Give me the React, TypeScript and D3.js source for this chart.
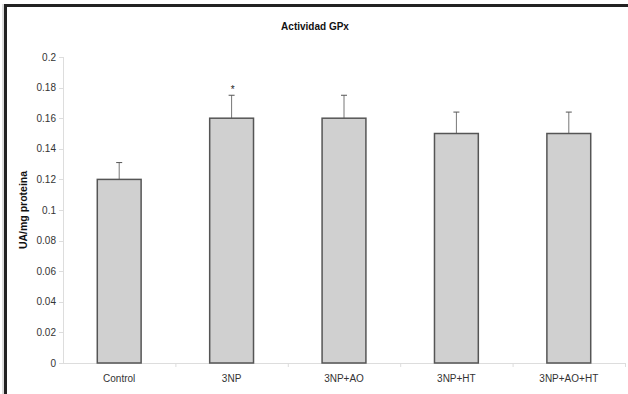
import React from "react";
import * as d3 from "d3";

const categories = ["Control", "3NP", "3NP+AO", "3NP+HT", "3NP+AO+HT"];
const values = [0.12, 0.16, 0.16, 0.15, 0.15];
const errors = [0.011, 0.015, 0.015, 0.014, 0.014];
const significant = [false, true, false, false, false];
const yTicks = [0, 0.02, 0.04, 0.06, 0.08, 0.1, 0.12, 0.14, 0.16, 0.18, 0.2];

const W = 628;
const H = 394;
const left = 63;
const right = 625;
const top = 57;
const bottom = 363;

export default function App() {
  const x = d3.scaleBand<string>().domain(categories).range([left, right]).paddingInner(0).paddingOuter(0);
  const y = d3.scaleLinear().domain([0, 0.2]).range([bottom, top]);
  const bw = x.bandwidth() * 0.39;
  const font = "'Liberation Sans', Arial, sans-serif";
  return (
    <svg width={W} height={H} style={{ position: "absolute", left: 0, top: 0, background: "#fff" }} fontFamily={font}>
      <rect x={0} y={0} width={W} height={H} fill="#fff" />
      {/* frame */}
      <line x1={3} y1={4} x2={3} y2={H} stroke="#bbb" strokeWidth={1} />
      <line x1={5.5} y1={5.5} x2={5.5} y2={H} stroke="#222" strokeWidth={3} />
      <line x1={4} y1={5.5} x2={W} y2={5.5} stroke="#222" strokeWidth={3} />
      <text x={315} y={30} textAnchor="middle" fontSize={10} fontWeight="bold" fill="#111">Actividad GPx</text>
      <text transform={`translate(27,${(top + bottom) / 2}) rotate(-90)`} textAnchor="middle" fontSize={10.5} fontWeight="bold" fill="#111">UA/mg proteina</text>
      {/* y axis */}
      <line x1={left + 0.5} y1={top} x2={left + 0.5} y2={bottom} stroke="#ddd" />
      {yTicks.map((t) => (
        <g key={t}>
          <line x1={left - 4} x2={left} y1={Math.round(y(t)) + 0.5} y2={Math.round(y(t)) + 0.5} stroke="#ddd" />
          <text x={left - 7} y={y(t) + 3.5} textAnchor="end" fontSize={10} fill="#333">{String(t)}</text>
        </g>
      ))}
      {/* x axis */}
      <line x1={left} y1={bottom + 0.5} x2={right} y2={bottom + 0.5} stroke="#ddd" />
      {categories.map((c) => (
        <line key={c} x1={(x(c) as number) + x.bandwidth() + 0.5} x2={(x(c) as number) + x.bandwidth() + 0.5} y1={bottom} y2={bottom + 4} stroke="#ddd" />
      ))}
      {categories.map((c, i) => {
        const cx = (x(c) as number) + x.bandwidth() / 2;
        const yt = y(values[i]);
        const ye = y(values[i] + errors[i]);
        return (
          <g key={c}>
            <line x1={cx} x2={cx} y1={yt} y2={ye} stroke="#777" strokeWidth={1} />
            <line x1={cx - 3} x2={cx + 3} y1={ye} y2={ye} stroke="#555" strokeWidth={1} />
            <rect x={cx - bw / 2} y={yt} width={bw} height={bottom - yt} fill="#d0d0d0" stroke="#555" strokeWidth={1.5} />
            {significant[i] && (
              <text x={cx + 1} y={ye - 2} textAnchor="middle" fontSize={10} fill="#222">*</text>
            )}
            <text x={cx} y={bottom + 19} textAnchor="middle" fontSize={10} fill="#333">{c}</text>
          </g>
        );
      })}
    </svg>
  );
}
